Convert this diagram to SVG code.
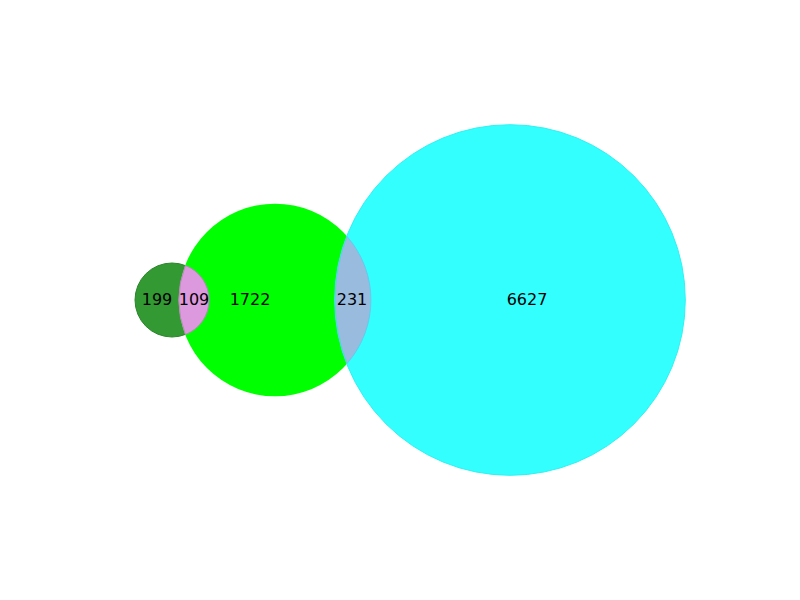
<svg xmlns="http://www.w3.org/2000/svg" width="800" height="600" viewBox="0 0 800 600">
<style>
text{font-family:"DejaVu Sans",sans-serif;font-size:16px;fill:#000;text-anchor:middle;dominant-baseline:central}
</style>
<rect width="800" height="600" fill="#fff"/>
<g id="set-a"><circle cx="172" cy="300" r="37" fill="#339933" stroke="#2b852b" stroke-width="1"/></g>
<g id="set-b"><circle cx="275" cy="300" r="96.3" fill="#00ff00"/></g>
<g id="set-c"><circle cx="510" cy="300" r="175.3" fill="#33ffff" stroke="#2ef2f2" stroke-width="1"/></g>
<g id="connectors"></g>
<g id="ab"><path d="M185.4,265.5 A37,37 0 0 1 185.4,334.5 A96.3,96.3 0 0 1 185.4,265.5 Z" fill="#dd99dd" stroke="#b98ab9" stroke-width="1"/></g>
<g id="bc"><path d="M347,236.5 A96.3,96.3 0 0 1 347,363.5 A175.3,175.3 0 0 1 347,236.5 Z" fill="#99bbdd" stroke="#66c8ee" stroke-width="1"/></g>
<g id="labels">
<text x="157" y="299">199</text>
<text x="194" y="299">109</text>
<text x="250" y="299">1722</text>
<text x="352" y="299">231</text>
<text x="527" y="299">6627</text>
</g>
</svg>
